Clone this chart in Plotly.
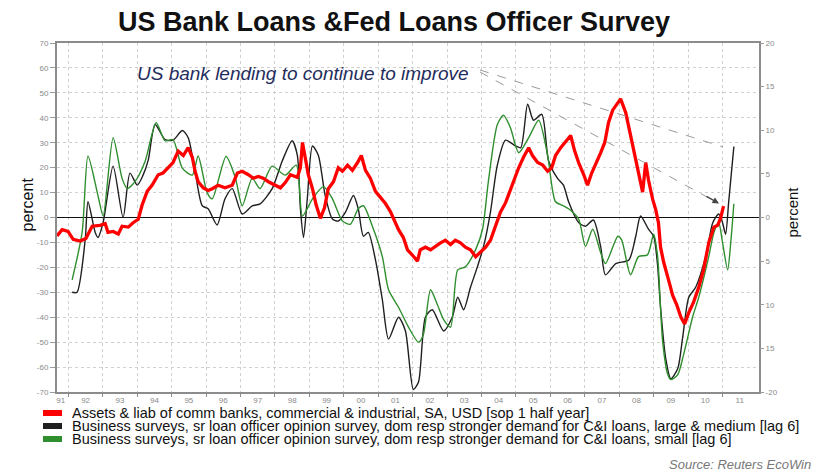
import plotly.graph_objects as go

# ---------------- data ----------------
# Red: Assets & liab of comm banks, C&I (right axis, percent)
red_year = [1991.67, 1991.82, 1991.99, 1992.14, 1992.34, 1992.51, 1992.69, 1992.92, 1993.07, 1993.15,
            1993.30, 1993.45, 1993.56, 1993.74, 1993.88, 1994.03, 1994.14, 1994.29, 1994.43, 1994.61,
            1994.75, 1994.90, 1995.04, 1995.19, 1995.34, 1995.48, 1995.60, 1995.68, 1995.77, 1995.92,
            1996.06, 1996.18, 1996.35, 1996.55, 1996.76, 1996.91, 1997.05, 1997.23, 1997.37, 1997.52,
            1997.66, 1997.81, 1998.01, 1998.16, 1998.30, 1998.45, 1998.65, 1998.74, 1998.80, 1998.88,
            1998.97, 1999.09, 1999.20, 1999.32, 1999.44, 1999.55, 1999.70, 1999.84, 1999.96, 2000.11,
            2000.25, 2000.40, 2000.51, 2000.63, 2000.77, 2000.92, 2001.06, 2001.21, 2001.35, 2001.47,
            2001.59, 2001.73, 2001.85, 2001.99, 2002.14, 2002.22, 2002.37, 2002.52, 2002.66, 2002.81,
            2002.95, 2003.10, 2003.24, 2003.39, 2003.53, 2003.68, 2003.83, 2003.97, 2004.12, 2004.26,
            2004.41, 2004.55, 2004.70, 2004.81, 2004.93, 2005.08, 2005.22, 2005.37, 2005.48, 2005.63,
            2005.78, 2005.92, 2006.04, 2006.15, 2006.30, 2006.47, 2006.59, 2006.70, 2006.82, 2006.97,
            2007.08, 2007.20, 2007.34, 2007.46, 2007.58, 2007.69, 2007.81, 2007.93, 2008.04, 2008.19,
            2008.33, 2008.48, 2008.59, 2008.68, 2008.77, 2008.85, 2008.97, 2009.06, 2009.14, 2009.20,
            2009.29, 2009.38, 2009.47, 2009.55, 2009.67, 2009.79, 2009.90, 2010.02, 2010.16, 2010.31,
            2010.45, 2010.60, 2010.75, 2010.86, 2010.95, 2011.03]
red_val = [-2.1, -1.4, -1.6, -2.5, -2.7, -2.4, -1.0, -0.9, -0.7, -1.7,
           -1.6, -1.9, -1.0, -1.1, -0.6, -0.2, 1.4, 3.0, 3.7, 4.9,
           5.1, 5.7, 6.3, 7.6, 7.1, 8.0, 6.9, 5.3, 4.1, 3.4,
           3.1, 3.3, 3.7, 3.4, 3.7, 5.1, 5.3, 4.9, 4.5, 4.7,
           4.5, 4.1, 3.7, 3.4, 4.0, 4.9, 4.6, 5.7, 8.6, 6.9,
           4.9, 3.3, 1.4, -0.1, 1.1, 3.3, 4.1, 5.7, 5.3, 6.0,
           5.4, 6.3, 7.1, 5.4, 4.5, 3.0, 2.3, 1.6, 0.7, -0.3,
           -1.4, -2.3, -3.7, -4.3, -5.0, -3.7, -3.4, -3.7, -3.3, -2.9,
           -2.6, -3.1, -2.6, -2.9, -3.4, -3.7, -4.5, -4.0, -3.4, -2.6,
           -0.9, 0.6, 1.7, 2.9, 4.3, 5.7, 6.9, 8.0, 7.1, 6.3,
           6.0, 5.3, 5.7, 7.1, 8.0, 8.9, 9.4, 7.7, 6.3, 4.9,
           3.7, 5.1, 6.3, 7.4, 8.6, 10.9, 12.3, 12.9, 13.6, 12.0,
           9.4, 6.3, 4.3, 2.9, 6.3, 4.3, 2.1, 0.9, -0.6, -3.4,
           -5.1, -6.3, -7.7, -8.9, -10.0, -11.4, -12.2, -10.9, -9.7, -8.0,
           -6.0, -2.9, -1.1, -0.9, 0.0, 1.3]

# Black: loan officer survey, large & medium firms [lag 6] (left axis)
black_year = [1992.11, 1992.25, 1992.49, 1992.57, 1992.78, 1992.86, 1993.01, 1993.30, 1993.59, 1993.79,
              1994.00, 1994.17, 1994.32, 1994.52, 1994.81, 1995.04, 1995.31, 1995.48, 1995.68, 1995.89,
              1996.06, 1996.32, 1996.55, 1996.76, 1997.05, 1997.34, 1997.57, 1997.92, 1998.21, 1998.50,
              1998.65, 1998.74, 1998.83, 1998.94, 1999.09, 1999.26, 1999.46, 1999.67, 1999.84, 2000.05,
              2000.28, 2000.42, 2000.57, 2000.71, 2000.92, 2001.12, 2001.30, 2001.59, 2001.79, 2002.02,
              2002.17, 2002.37, 2002.57, 2002.90, 2003.15, 2003.31, 2003.48, 2003.68, 2003.88, 2004.06,
              2004.26, 2004.46, 2004.70, 2004.99, 2005.14, 2005.34, 2005.51, 2005.75, 2005.95, 2006.21,
              2006.38, 2006.53, 2006.82, 2007.02, 2007.25, 2007.46, 2007.60, 2007.90, 2008.28, 2008.48,
              2008.62, 2008.85, 2009.00, 2009.11, 2009.20, 2009.35, 2009.50, 2009.70, 2009.84, 2010.02,
              2010.22, 2010.51, 2010.72, 2010.89, 2011.00, 2011.09, 2011.18, 2011.33]
black_val = [-30, -30, -8.8, 6.3, -6, -8, -2, 20.6, 0, 17.8,
             13, 17, 23, 37.3, 31.2, 31, 34.9, 32, 18.5, 4.7,
             3.5, -3, 7.5, 11.6, 1.4, 4.7, 5.5, 11.6, 22.6, 30.8,
             25, 3.5, -8, 7.5, 28.7, 25, 8.8, -0.6, -1.4, 2.2,
             8.8, 3.5, -7.5, -6, -17, -33, -48.8, -40, -45.5, -69,
             -66, -40, -37, -45.5, -40, -32, -37, -28, -19.8, -11.6,
             2.2, 21, 31, 28.7, 28, 45.5, 39, 41.4, 22.6, 15.7,
             13, 6.3, -2, -3.5, -1, -11.6, -23, -18.5, -17, -7.5,
             0.6, -4.7, -7.5, -18.5, -36, -56.5, -64.7, -60.6, -48.4, -32,
             -28, -15.7, -2, 1.4, -2, -6.7, 6.3, 28.5]

# Green: loan officer survey, small firms [lag 6] (left axis)
green_year = [1992.11, 1992.40, 1992.57, 1992.86, 1993.01, 1993.30, 1993.56, 1993.71, 1993.94, 1994.23,
              1994.55, 1994.81, 1995.04, 1995.31, 1995.60, 1995.77, 1996.03, 1996.18, 1996.58, 1996.85,
              1997.05, 1997.34, 1997.57, 1997.92, 1998.30, 1998.62, 1998.80, 1999.09, 1999.41, 1999.67,
              1999.96, 2000.19, 2000.42, 2000.57, 2000.83, 2001.12, 2001.30, 2001.59, 2001.88, 2002.17,
              2002.31, 2002.52, 2002.72, 2002.90, 2003.10, 2003.31, 2003.53, 2003.83, 2004.03, 2004.20,
              2004.46, 2004.64, 2004.84, 2005.08, 2005.37, 2005.66, 2005.92, 2006.15, 2006.38, 2006.53,
              2006.82, 2007.02, 2007.23, 2007.46, 2007.60, 2007.96, 2008.07, 2008.33, 2008.56, 2008.82,
              2009.00, 2009.11, 2009.26, 2009.41, 2009.50, 2009.70, 2009.87, 2010.13, 2010.31, 2010.60,
              2010.75, 2010.89, 2011.00, 2011.15, 2011.24, 2011.33]
green_val = [-25, -6, 24.7, 8.8, 0.6, 32, 15.7, 11.6, 14.5, 22.6,
             38, 30.8, 31.2, 19.8, 17, 24.7, 10, 7.5, 24.5, 16,
             4.7, 15.7, 11.6, 20.6, 17, 21, 0.6, 7.5, 12.4, 7.5,
             -1.4, -2.7, 3.5, 4.7, -3.5, -15.7, -29, -36, -44, -50,
             -47, -29, -35, -41, -44, -21, -19.8, -12.9, -4.7, 14.5,
             37.3, 41, 36, 26, 32, 39, 25, 6.3, 4.7, 3.5,
             -0.6, -11.6, -4.7, -14, -18.5, -7.5, -9, -23, -15.7, -15,
             -6.7, -15, -49.6, -63, -65, -63, -55, -40, -32, -15.7,
             -6, -2, -10, -21, -10, 5.5]

x_tick_pos = [1991.78, 1992.5, 1993.5, 1994.5, 1995.5, 1996.5, 1997.5, 1998.5, 1999.5, 2000.5, 2001.5,
              2002.5, 2003.5, 2004.5, 2005.5, 2006.5, 2007.5, 2008.5, 2009.5, 2010.5, 2011.5]
x_tick_text = ["91", "92", "93", "94", "95", "96", "97", "98", "99", "00", "01",
               "02", "03", "04", "05", "06", "07", "08", "09", "10", "11"]
year_bounds = [1992, 1993, 1994, 1995, 1996, 1997, 1998, 1999, 2000, 2001, 2002,
               2003, 2004, 2005, 2006, 2007, 2008, 2009, 2010, 2011]
left_ticks = [70, 60, 50, 40, 30, 20, 10, 0, -10, -20, -30, -40, -50, -60, -70]
left_tick_text = ["70", "60", "50", "40", "30", "20", "10", "0", "-10", "-20", "-30", "-40", "-50", "-60", "-70"]
right_ticks = [20, 15, 10, 5, 0, -5, -10, -15, -20]
right_tick_text = ["20", "15", "10", "5", "0", "5", "10", "15", "-20"]

legend_labels = [
    "Assets & liab of comm banks, commercial & industrial, SA, USD [sop 1 half year]",
    "Business surveys, sr loan officer opinion survey, dom resp stronger demand for C&I loans, large & medium [lag 6]",
    "Business surveys, sr loan officer opinion survey, dom resp stronger demand for C&I loans, small [lag 6]",
]
series_colors = ["#ff0000", "#1f1f1f", "#2f8f2f"]

# ---------------- figure ----------------
W, H = 819, 471
ML, MR, MT, MB = 57, 60, 43, 79
PW, PH = W - ML - MR, H - MT - MB
FONT = "Liberation Sans, Arial, sans-serif"


def px_x(p):
    return (p - ML) / PW


def px_y(p):
    return (H - MB - p) / PH


fig = go.Figure()
fig.add_trace(go.Scatter(x=red_year, y=red_val, yaxis="y2", mode="lines",
                         line=dict(color=series_colors[0], width=3.3), showlegend=False))
fig.add_trace(go.Scatter(x=black_year, y=black_val, mode="lines",
                         line=dict(color=series_colors[1], width=1.4, shape="spline", smoothing=0.7),
                         showlegend=False))
fig.add_trace(go.Scatter(x=green_year, y=green_val, mode="lines",
                         line=dict(color=series_colors[2], width=1.4, shape="spline", smoothing=0.7),
                         showlegend=False))

tickfont = dict(family=FONT, size=8, color="#8a8a8a")

fig.update_layout(
    width=W, height=H,
    margin=dict(l=ML, r=MR, t=MT, b=MB),
    paper_bgcolor="white", plot_bgcolor="white",
    font=dict(family=FONT),
    title=dict(text="<b>US Bank Loans &Fed Loans Officer Survey</b>",
               x=394 / W, xanchor="center", y=1 - 22 / H, yanchor="middle",
               font=dict(family=FONT, size=27, color="#111")),
    xaxis=dict(range=[1991.67, 2012.06], tickmode="array", tickvals=x_tick_pos, ticktext=x_tick_text,
               showgrid=False, ticks="", tickfont=tickfont, showline=True, linecolor="#8c8c8c",
               linewidth=1.5, mirror=True, zeroline=False, ticklabelstandoff=0,
               minor=dict(tickmode="array", tickvals=year_bounds, showgrid=True, gridcolor="#d0d0d0",
                          griddash="dot", gridwidth=1, ticks="outside", ticklen=3, tickcolor="#8c8c8c")),
    yaxis=dict(range=[-70, 70], tickmode="array", tickvals=left_ticks, ticktext=left_tick_text,
               tickfont=tickfont, ticks="outside", ticklen=5, tickcolor="#9a9a9a",
               showgrid=True, gridcolor="#d0d0d0", griddash="dot", gridwidth=1,
               showline=True, linecolor="#8c8c8c", linewidth=2, mirror=True,
               zeroline=True, zerolinecolor="#111", zerolinewidth=1.3),
    yaxis2=dict(range=[-20, 20], overlaying="y", side="right", tickmode="array",
                tickvals=right_ticks, ticktext=right_tick_text, tickfont=tickfont,
                ticks="outside", ticklen=4, tickcolor="#9a9a9a", showgrid=False, zeroline=False,
                showline=False),
)

annotations = []
shapes = []

# y-axis titles
annotations.append(dict(text="percent", xref="paper", yref="paper", x=px_x(16), y=px_y(205),
                        textangle=-90, showarrow=False, font=dict(family=FONT, size=16, color="#111")))
annotations.append(dict(text="percent", xref="paper", yref="paper", x=px_x(802), y=px_y(212),
                        textangle=-90, showarrow=False, font=dict(family=FONT, size=15, color="#111")))

# callout text and dashed pointers
annotations.append(dict(text="<i>US bank lending to continue to improve</i>", xref="paper", yref="paper",
                        x=px_x(135), y=px_y(73), xanchor="left", yanchor="middle", showarrow=False,
                        font=dict(family=FONT, size=19, color="#1f2d5c")))
shapes.append(dict(type="line", xref="paper", yref="paper", x0=px_x(480), y0=px_y(70),
                   x1=px_x(723), y1=px_y(147), line=dict(color="#9a9a9a", width=1, dash="dash")))
shapes.append(dict(type="line", xref="paper", yref="paper", x0=px_x(480), y0=px_y(72),
                   x1=px_x(716), y1=px_y(202), line=dict(color="#9a9a9a", width=1, dash="dash")))
annotations.append(dict(text="", xref="paper", yref="paper", x=px_x(719), y=px_y(203.5),
                        axref="pixel", ayref="pixel", ax=-14, ay=-8, showarrow=True,
                        arrowhead=2, arrowsize=1, arrowwidth=1.3, arrowcolor="#444"))

# manual legend
leg_y = [413, 426, 439]
for lab, col, yy in zip(legend_labels, series_colors, leg_y):
    shapes.append(dict(type="rect", xref="paper", yref="paper", x0=px_x(43), x1=px_x(62),
                       y0=px_y(yy + 3), y1=px_y(yy - 3), fillcolor=col, line=dict(width=0)))
    annotations.append(dict(text=lab, xref="paper", yref="paper", x=px_x(71), y=px_y(yy),
                            xanchor="left", yanchor="middle", showarrow=False, borderpad=0,
                            font=dict(family=FONT, size=14.5, color="#111")))

annotations.append(dict(text="<i>Source: Reuters EcoWin</i>", xref="paper", yref="paper",
                        x=px_x(813), y=px_y(464), xanchor="right", yanchor="middle", showarrow=False,
                        font=dict(family=FONT, size=13, color="#777")))

fig.update_layout(annotations=annotations, shapes=shapes)
fig.write_html("out.html")
